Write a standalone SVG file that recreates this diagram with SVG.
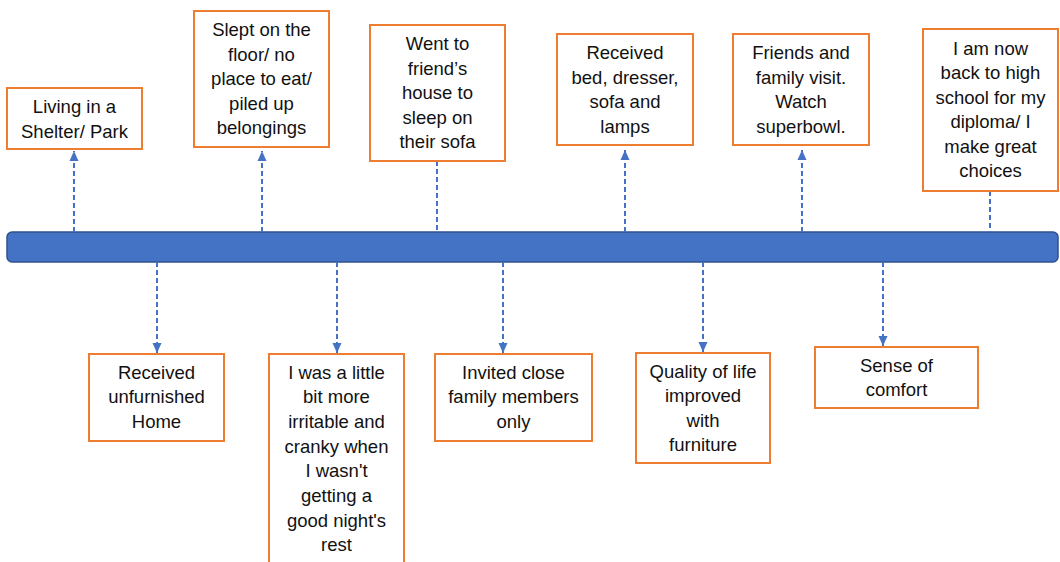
<svg xmlns="http://www.w3.org/2000/svg" width="1060" height="562" viewBox="0 0 1060 562">
<style>
.box{fill:#fff;stroke:#ED7D31;stroke-width:2}
.t{font-family:"Liberation Sans",Arial,sans-serif;font-size:18.5px;fill:#111;text-anchor:middle}
.c{stroke:#4472C4;stroke-width:2;stroke-dasharray:5 3;fill:none}
</style>
<defs>
<marker id="ah" markerUnits="userSpaceOnUse" markerWidth="10" markerHeight="10" viewBox="0 0 10 10" refX="10" refY="5" orient="auto">
<path d="M0,0.5 L10,5 L0,9.5 z" fill="#4472C4"/>
</marker>
</defs>
<rect x="0" y="0" width="1060" height="562" fill="#fff"/>
<g id="timeline">
<rect x="7" y="232" width="1051" height="30" rx="5" ry="5" fill="#4472C4" stroke="#2F528F" stroke-width="1.5"/>
</g>
<g id="connectors">
<line class="c" x1="74" y1="232" x2="74" y2="151" marker-end="url(#ah)"/>
<line class="c" x1="262" y1="232" x2="262" y2="151" marker-end="url(#ah)"/>
<line class="c" x1="437" y1="161" x2="437" y2="232"/>
<line class="c" x1="625" y1="232" x2="625" y2="150" marker-end="url(#ah)"/>
<line class="c" x1="802" y1="232" x2="802" y2="150" marker-end="url(#ah)"/>
<line class="c" x1="990" y1="191" x2="990" y2="232"/>
<line class="c" x1="157" y1="262" x2="157" y2="353" marker-end="url(#ah)"/>
<line class="c" x1="337" y1="262" x2="337" y2="353" marker-end="url(#ah)"/>
<line class="c" x1="503" y1="262" x2="503" y2="353" marker-end="url(#ah)"/>
<line class="c" x1="703" y1="262" x2="703" y2="352" marker-end="url(#ah)"/>
<line class="c" x1="883" y1="262" x2="883" y2="346" marker-end="url(#ah)"/>
</g>
<g id="n1">
<rect class="box" x="7" y="88" width="135" height="61"/>
<text class="t" x="74.5"><tspan x="74.5" y="113">Living in a</tspan><tspan x="74.5" y="137.5">Shelter/ Park</tspan></text>
</g>
<g id="n2">
<rect class="box" x="194" y="11" width="135" height="136"/>
<text class="t"><tspan x="261.5" y="36">Slept on the</tspan><tspan x="261.5" y="60.5">floor/ no</tspan><tspan x="261.5" y="85">place to eat/</tspan><tspan x="261.5" y="109.5">piled up</tspan><tspan x="261.5" y="134">belongings</tspan></text>
</g>
<g id="n3">
<rect class="box" x="370" y="25" width="135" height="136"/>
<text class="t"><tspan x="437.5" y="50">Went to</tspan><tspan x="437.5" y="74.5">friend’s</tspan><tspan x="437.5" y="99">house to</tspan><tspan x="437.5" y="123.5">sleep on</tspan><tspan x="437.5" y="148">their sofa</tspan></text>
</g>
<g id="n4">
<rect class="box" x="557" y="34" width="136" height="111"/>
<text class="t"><tspan x="625" y="59">Received</tspan><tspan x="625" y="83.5">bed, dresser,</tspan><tspan x="625" y="108">sofa and</tspan><tspan x="625" y="132.5">lamps</tspan></text>
</g>
<g id="n5">
<rect class="box" x="733" y="34" width="136" height="111"/>
<text class="t"><tspan x="801" y="59">Friends and</tspan><tspan x="801" y="83.5">family visit.</tspan><tspan x="801" y="108">Watch</tspan><tspan x="801" y="132.5">superbowl.</tspan></text>
</g>
<g id="n6">
<rect class="box" x="923" y="29" width="135" height="162"/>
<text class="t"><tspan x="990.5" y="54.5">I am now</tspan><tspan x="990.5" y="79">back to high</tspan><tspan x="990.5" y="103.5">school for my</tspan><tspan x="990.5" y="128">diploma/ I</tspan><tspan x="990.5" y="152.5">make great</tspan><tspan x="990.5" y="177">choices</tspan></text>
</g>
<g id="b1">
<rect class="box" x="89" y="354" width="135" height="87"/>
<text class="t"><tspan x="156.5" y="378.5">Received</tspan><tspan x="156.5" y="403">unfurnished</tspan><tspan x="156.5" y="427.5">Home</tspan></text>
</g>
<g id="b2">
<rect class="box" x="269" y="354" width="135" height="215"/>
<text class="t"><tspan x="336.5" y="378.5">I was a little</tspan><tspan x="336.5" y="403.2">bit more</tspan><tspan x="336.5" y="427.9">irritable and</tspan><tspan x="336.5" y="452.6">cranky when</tspan><tspan x="336.5" y="477.3">I wasn't</tspan><tspan x="336.5" y="502">getting a</tspan><tspan x="336.5" y="526.7">good night's</tspan><tspan x="336.5" y="551.4">rest</tspan></text>
</g>
<g id="b3">
<rect class="box" x="435" y="354" width="157" height="87"/>
<text class="t"><tspan x="513.5" y="378.5">Invited close</tspan><tspan x="513.5" y="403">family members</tspan><tspan x="513.5" y="427.5">only</tspan></text>
</g>
<g id="b4">
<rect class="box" x="636" y="353" width="134" height="110"/>
<text class="t"><tspan x="703" y="377.5">Quality of life</tspan><tspan x="703" y="402">improved</tspan><tspan x="703" y="426.5">with</tspan><tspan x="703" y="451">furniture</tspan></text>
</g>
<g id="b5">
<rect class="box" x="815" y="347" width="163" height="61"/>
<text class="t"><tspan x="896.5" y="371.5">Sense of</tspan><tspan x="896.5" y="396">comfort</tspan></text>
</g>
</svg>
